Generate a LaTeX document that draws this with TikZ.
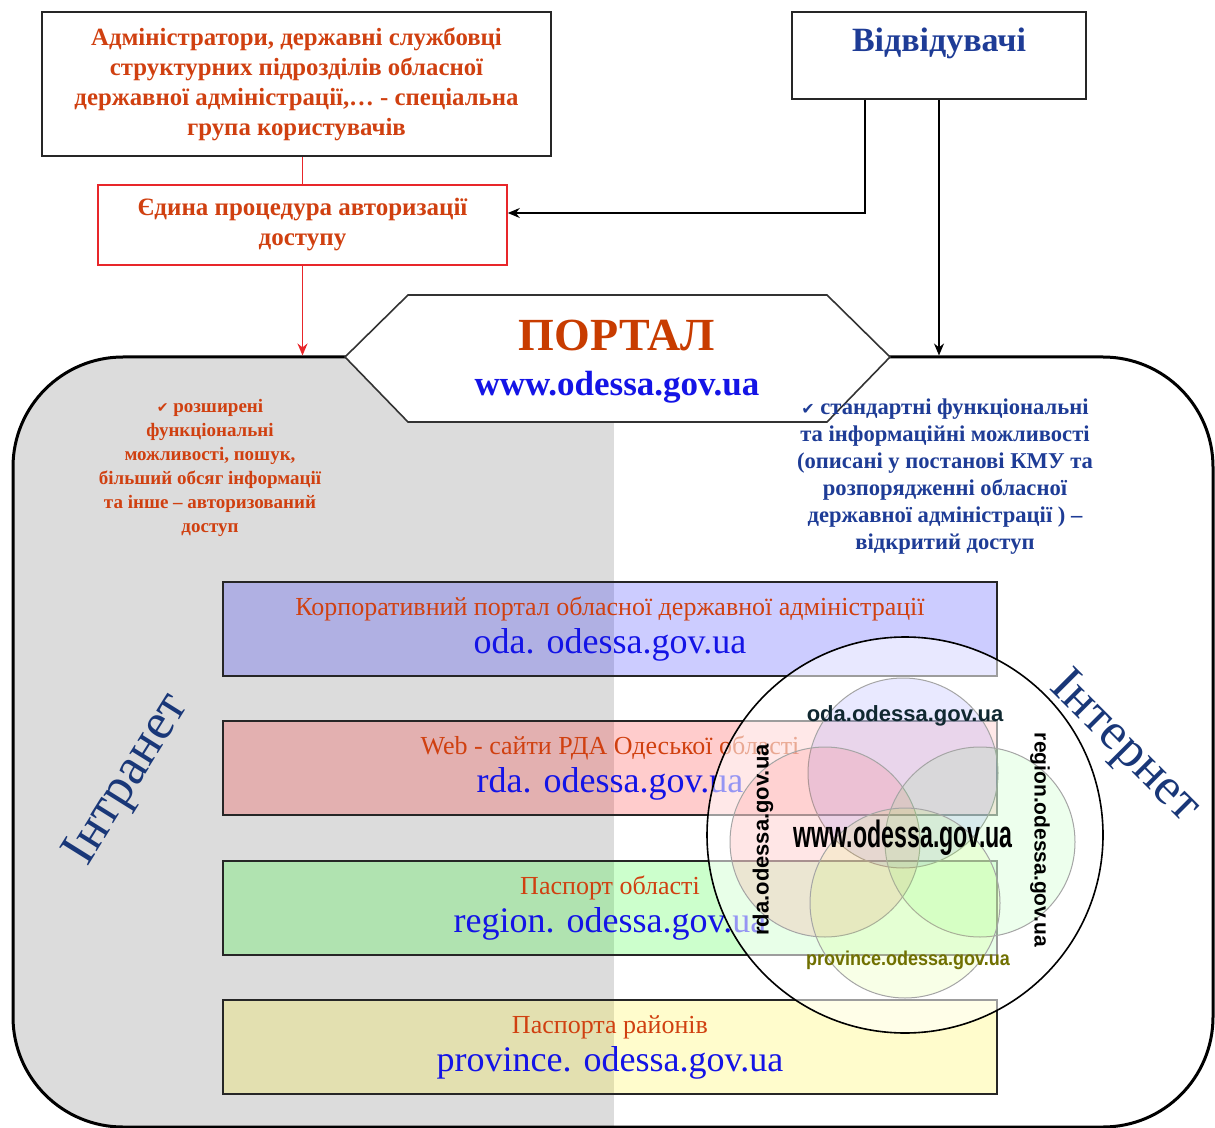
\documentclass[tikz,border=0pt]{standalone}
\usepackage{fontspec}
\setmainfont{Liberation Serif}
\newfontfamily\sansf{Liberation Sans}
\newfontfamily\symf{DejaVu Sans}
\usetikzlibrary{arrows.meta,calc}
\definecolor{redtxt}{RGB}{208,64,16}
\definecolor{portalred}{RGB}{200,60,0}
\definecolor{urlblue}{RGB}{20,20,230}
\definecolor{navy}{RGB}{30,60,150}
\definecolor{navydark}{RGB}{25,55,120}
\definecolor{graybg}{RGB}{220,220,220}
\definecolor{authred}{RGB}{232,38,42}
\definecolor{odacol}{RGB}{16,40,48}
\definecolor{provcol}{RGB}{112,112,0}
\definecolor{venngray}{RGB}{165,165,165}
\begin{document}
\begin{tikzpicture}[x=0.5pt,y=-0.5pt,
  tip/.style={-{Stealth[length=6pt,width=5pt]}},
  topbox/.style={draw=black!85, line width=0.8pt, align=center},
  band/.style={draw=black!85, line width=0.8pt, fill opacity=0.2, text opacity=1,
    minimum width=387pt, minimum height=47pt, align=center,
    font=\fontsize{18}{19}\selectfont, text=urlblue},
  venn/.style={circle, draw=venngray, line width=0.5pt, minimum size=95pt, fill opacity=0.12},
  vlabel/.style={font=\sansf\bfseries\fontsize{11}{13}\selectfont},
  bigword/.style={text=navydark, font=\fontsize{26}{28}\selectfont}]
\useasboundingbox (0,0) rectangle (1215,1128);

% big portal area
\node[draw=black, line width=1.5pt, rounded corners=55pt,
  minimum width=600pt, minimum height=385pt,
  path picture={\fill[graybg, sharp corners] (path picture bounding box.north west) rectangle ([xshift=300.5pt]path picture bounding box.south west);}]
  (P) at (613,742) {};

% top boxes
\node[topbox, minimum width=254.5pt, minimum height=72pt, text=redtxt,
  font=\fontsize{12.4}{15}\selectfont\bfseries] (A) at (296.5,84)
  {Адміністратори, державні службовці\\ структурних підрозділів обласної\\ державної адміністрації,… - спеціальна\\ група користувачів};
\node[topbox, minimum width=147pt, minimum height=43.5pt, text=navy,
  font=\fontsize{17}{19}\selectfont\bfseries, text height=12.5pt, text depth=16pt] (B) at (939,55.5) {Відвідувачі};
\node[draw=authred, line width=0.8pt, align=center, minimum width=204.5pt, minimum height=40pt,
  text=redtxt, font=\fontsize{12.5}{15}\selectfont\bfseries] (C) at (302.5,225)
  {Єдина процедура авторизації\\ доступу};

% connectors
\draw[authred, line width=0.8pt] (C.north) -- (C.north |- A.south);
\draw[authred, line width=0.8pt, tip] (C.south) -- (C.south |- P.north);
\draw[black, line width=0.8pt, tip] ($(B.south west)!0.25!(B.south east)$) |- ([yshift=6pt]C.east);
\draw[black, line width=0.8pt, tip] (B.south) -- (B.south |- P.north);

% hexagon portal
\draw[draw=black!80, line width=0.8pt, fill=white] (345,357) -- (408,295) -- (827,295) -- (890,357) -- (827,422) -- (408,422) -- cycle;
\node[text=portalred, font=\bfseries\fontsize{23}{26}\selectfont] (ptitle) at (617,335) {ПОРТАЛ};
\node[text=urlblue, font=\bfseries\fontsize{17.5}{20}\selectfont] (purl) at (617,387) {www.odessa.gov.ua};

% side texts
\node[align=center, text=redtxt, font=\fontsize{9.5}{12}\selectfont\bfseries] (lt) at (210,468)
  {{\symf\fontsize{7}{12}\selectfont ✔} розширені\\ функціональні\\ можливості, пошук,\\ більший  обсяг інформації\\ та інше  – авторизований\\ доступ};
\node[align=center, text=navy, font=\fontsize{11.3}{13.5}\selectfont\bfseries] (rt) at (945,477)
  {{\symf\fontsize{8}{12}\selectfont ✔} стандартні функціональні\\ та інформаційні можливості\\ (описані у постанові КМУ та\\ розпорядженні обласної\\ державної адміністрації ) –\\ відкритий доступ};

% bands
\node[band, fill=blue] (b1) at (610,629)
  {{\fontsize{13}{15}\selectfont\color{redtxt}Корпоративний  портал обласної державної адміністрації}\\ oda. odessa.gov.ua};
\node[band, fill=red] (b2) at (610,768)
  {{\fontsize{13}{15}\selectfont\color{redtxt}Web - сайти РДА Одеської області}\\ rda. odessa.gov.ua};
\node[band, fill=green] (b3) at (610,908)
  {{\fontsize{13}{15}\selectfont\color{redtxt}Паспорт області}\\ region. odessa.gov.ua};
\node[band, fill=yellow] (b4) at (610,1047)
  {{\fontsize{13}{15}\selectfont\color{redtxt}Паспорта районів}\\ province. odessa.gov.ua};

% venn
\node[circle, draw=black, line width=0.8pt, fill=white, fill opacity=0.55, minimum size=198pt] (V) at (905,835) {};
\node[venn, fill=blue!70] (vt) at (903,773) {};
\node[venn, fill=red!80] (vl) at (825,842) {};
\node[venn, fill=green!70, fill opacity=0.1] (vr) at (980,842) {};
\node[venn, fill={rgb,255:red,200;green,255;blue,60}] (vb) at (905,903) {};
\node[vlabel, text=odacol] (loda) at (905,716) {oda.odessa.gov.ua};
\node[vlabel, font=\sansf\bfseries\fontsize{19}{22}\selectfont, xscale=0.61] (lwww) at (903,838) {www.odessa.gov.ua};
\node[vlabel, rotate=90] (lrda) at (763,840) {rda.odessa.gov.ua};
\node[vlabel, rotate=-90, font=\sansf\bfseries\fontsize{10.5}{13}\selectfont] (lreg) at (1040,840) {region.odessa.gov.ua};
\node[vlabel, text=provcol, xscale=0.9, font=\sansf\bfseries\fontsize{10}{12}\selectfont] (lprov) at (908,960) {province.odessa.gov.ua};

% big words
\node[bigword, rotate=58] (intra) at (128,780) {Інтранет};
\node[bigword, rotate=-45] (inter) at (1124,748) {Інтернет};
\end{tikzpicture}
\end{document}
